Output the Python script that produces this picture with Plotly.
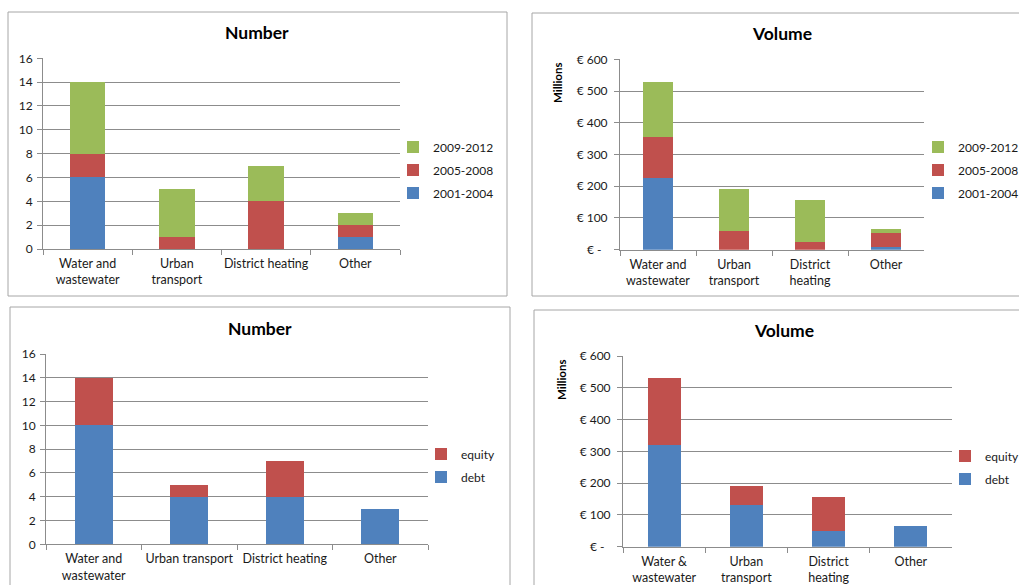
import plotly.graph_objects as go

W, H = 1019, 585

# ---- data -------------------------------------------------------------
period_names = ["2001-2004", "2005-2008", "2009-2012"]
period_colors = ["#4F81BD", "#C0504D", "#9BBB59"]
instrument_names = ["debt", "equity"]
instrument_colors = ["#4F81BD", "#C0504D"]

cats_num_period = ["Water and<br>wastewater", "Urban<br>transport", "District heating", "Other"]
cats_vol_period = ["Water and<br>wastewater", "Urban<br>transport", "District<br>heating", "Other"]
cats_num_instr = ["Water and<br>wastewater", "Urban transport", "District heating", "Other"]
cats_vol_instr = ["Water &<br>wastewater", "Urban<br>transport", "District<br>heating", "Other"]

# number of operations per period
num_2001_2004 = [6, 0, 0, 1]
num_2005_2008 = [2, 1, 4, 1]
num_2009_2012 = [6, 4, 3, 1]

# volume (EUR millions) per period
vol_2001_2004 = [225, 0, 0, 7]
vol_2005_2008 = [130, 60, 23, 47]
vol_2009_2012 = [175, 130, 133, 10]

# number of operations per instrument
num_debt = [10, 4, 4, 3]
num_equity = [4, 1, 3, 0]

# volume (EUR millions) per instrument
vol_debt = [320, 130, 48, 65]
vol_equity = [210, 62, 108, 0]

num_ticks = [0, 2, 4, 6, 8, 10, 12, 14, 16]
vol_tickvals = [0, 100, 200, 300, 400, 500, 600]
vol_ticktext = ["€ -\u00a0\u00a0", "€ 100", "€ 200", "€ 300", "€ 400", "€ 500", "€ 600"]

FONT = "Lato"
TXT = "#1a1a1a"
GRID = "#8c8c8c"


def px_x(p):
    return p / W


def px_y(p):
    return 1 - p / H


fig = go.Figure()

panels = [
    ("x", "y", cats_num_period, [num_2001_2004, num_2005_2008, num_2009_2012],
     period_names, period_colors, "legend"),
    ("x2", "y2", cats_vol_period, [vol_2001_2004, vol_2005_2008, vol_2009_2012],
     period_names, period_colors, "legend2"),
    ("x3", "y3", cats_num_instr, [num_debt, num_equity],
     instrument_names, instrument_colors, "legend3"),
    ("x4", "y4", cats_vol_instr, [vol_debt, vol_equity],
     instrument_names, instrument_colors, "legend4"),
]

for xa, ya, cats, series, names, colors, leg in panels:
    for i, (vals, name, col) in enumerate(zip(series, names, colors)):
        fig.add_trace(go.Bar(
            x=cats, y=vals, name=name, xaxis=xa, yaxis=ya,
            marker=dict(color=col, line=dict(width=0)),
            legend=leg, legendgroup=leg + "-" + name, legendrank=100 - i,
        ))

# plot-area rectangles in pixels: (left, right, bottom, top)
areas = {
    "1": (43, 400, 249, 58.3),
    "2": (620, 924, 249.7, 59.3),
    "3": (46, 428, 544.3, 354),
    "4": (623, 952, 546.7, 356),
}

axis_common = dict(
    showline=True, linecolor=GRID, linewidth=1,
    ticks="outside", ticklen=5, tickcolor=GRID,
)

layout = dict(
    width=W, height=H,
    margin=dict(l=0, r=0, t=0, b=0, autoexpand=False),
    paper_bgcolor="white", plot_bgcolor="white",
    barmode="stack", bargap=0.6,
    font=dict(family=FONT, size=12, color=TXT),
    showlegend=True,
)

for k, (l, r, b, t) in areas.items():
    xs = "xaxis" if k == "1" else "xaxis" + k
    ys = "yaxis" if k == "1" else "yaxis" + k
    anchor_x = "y" if k == "1" else "y" + k
    anchor_y = "x" if k == "1" else "x" + k
    layout[xs] = dict(domain=[px_x(l), px_x(r)], anchor=anchor_x,
                      tickson="boundaries", showgrid=False, fixedrange=True,
                      tickangle=0, ticklabelstandoff=3,
                      tickfont=dict(family=FONT, size=12.5, color=TXT),
                      **axis_common)
    ydict = dict(domain=[px_y(b), px_y(t)], anchor=anchor_y,
                 showgrid=True, gridcolor=GRID, gridwidth=1,
                 zeroline=False, fixedrange=True,
                 tickfont=dict(family=FONT, size=12, color=TXT),
                 **axis_common)
    if k in ("1", "3"):
        ydict.update(range=[0, 16], tickvals=num_ticks, ticklabelstandoff=2)
    else:
        ydict.update(range=[0, 600], tickvals=vol_tickvals, ticktext=vol_ticktext,
                     ticklabelstandoff=4)
    layout[ys] = ydict

legend_common = dict(
    traceorder="grouped", tracegroupgap=4,
    font=dict(family=FONT, size=12, color=TXT),
    bgcolor="rgba(0,0,0,0)", itemwidth=30,
    xanchor="left", yanchor="middle",
    itemclick=False, itemdoubleclick=False,
)
layout["legend"] = dict(x=px_x(393), y=px_y(170), **legend_common)
layout["legend2"] = dict(x=px_x(918), y=px_y(170), **legend_common)
layout["legend3"] = dict(x=px_x(421), y=px_y(465.5), **legend_common)
layout["legend4"] = dict(x=px_x(945), y=px_y(467.5), **legend_common)

fig.update_layout(**layout)

# chart frames
frames = [(8, 507, 12, 296), (532, 1030, 13, 296), (10, 510, 307, 600), (534, 1030, 310, 600)]
for x0, x1, y0, y1 in frames:
    fig.add_shape(type="rect", xref="paper", yref="paper",
                  x0=px_x(x0), x1=px_x(x1), y0=px_y(y1), y1=px_y(y0),
                  line=dict(color="#a6a6a6", width=1), fillcolor="rgba(0,0,0,0)",
                  layer="below")

# titles
titles = [("Number", 257, 32), ("Volume", 782, 33), ("Number", 260, 328), ("Volume", 784, 330)]
for text, cx, cy in titles:
    fig.add_annotation(text="<b>%s</b>" % text, xref="paper", yref="paper",
                       x=px_x(cx), y=px_y(cy), xanchor="center", yanchor="middle",
                       showarrow=False, font=dict(family=FONT, size=17.5, color="black"))

# unit labels of the volume charts
for cx, cy in [(558, 83), (561, 380)]:
    fig.add_annotation(text="<b>Millions</b>", xref="paper", yref="paper",
                       x=px_x(cx), y=px_y(cy), xanchor="center", yanchor="middle",
                       textangle=-90, showarrow=False,
                       font=dict(family=FONT, size=11.5, color="black"))

fig.write_html("out.html")
